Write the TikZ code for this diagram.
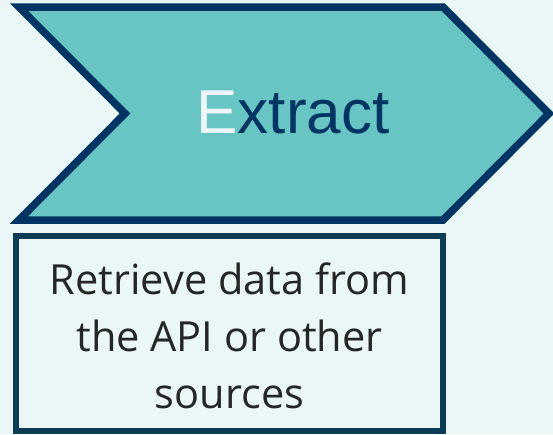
\documentclass[tikz,border=0pt]{standalone}
\usepackage{fontspec}
\setmainfont{Open Sans}
\newfontfamily\arialfont{Liberation Sans}
\usepackage{tikz}
\definecolor{fondo}{HTML}{EBF6F7}
\definecolor{turquesa}{HTML}{69C5C4}
\definecolor{marino}{HTML}{003563}
\definecolor{borde}{HTML}{0D3D55}
\definecolor{gris}{HTML}{262626}
\definecolor{claro}{HTML}{EEF7F8}
\tikzstyle{flecha}=[draw=marino, fill=turquesa, line width=7.5pt, line join=miter]
\tikzstyle{caja}=[draw=borde, fill=fondo, line width=6pt, minimum width=427pt, minimum height=195pt, inner sep=0pt]
\tikzstyle{texto}=[align=center, text=gris, inner sep=0pt, font=\fontsize{41.5}{57}\selectfont]

\begin{document}
\begin{tikzpicture}[x=1pt, y=-1pt]
        % fondo
        \fill[fondo] (0,0) rectangle (553,434);
        \useasboundingbox (0,0) rectangle (553,434);

        % flecha
        \draw[flecha] (19,7) -- (443,7) -- (549,113.5) -- (443,220) -- (19,220) -- (125,113.5) -- cycle;
        \node[anchor=base, font=\arialfont\fontsize{62}{70}\selectfont, text=marino] (extract) at (293,133) {\textcolor{claro}{E}xtract};

        % caja
        \node[caja] (desc) at (229.5,333.5) {};
        \node[texto] (desctexto) at ([yshift=-2pt]desc.center) {Retrieve data from\\the API or other\\sources};
    \end{tikzpicture}
\end{document}
